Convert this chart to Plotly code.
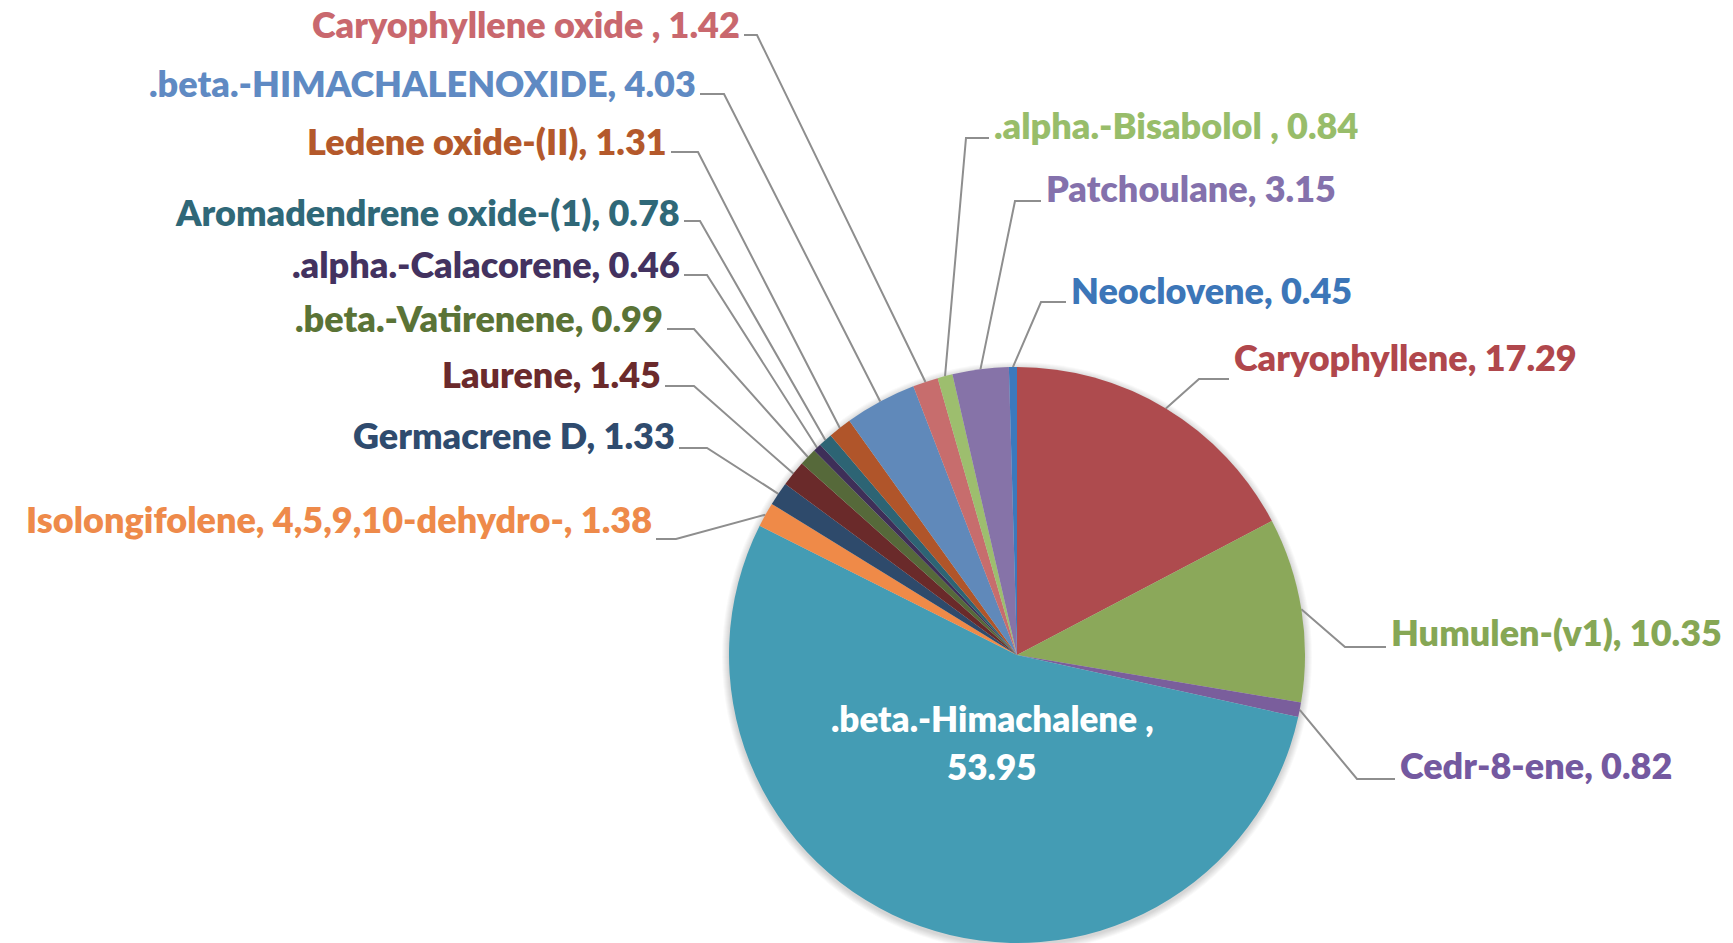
import math
import plotly.graph_objects as go

W, H = 1733, 943

# ---- data ----
compounds = [
    "Caryophyllene", "Humulen-(v1)", "Cedr-8-ene", ".beta.-Himachalene ",
    "Isolongifolene, 4,5,9,10-dehydro-", "Germacrene D", "Laurene",
    ".beta.-Vatirenene", ".alpha.-Calacorene", "Aromadendrene oxide-(1)",
    "Ledene oxide-(II)", ".beta.-HIMACHALENOXIDE", "Caryophyllene oxide ",
    ".alpha.-Bisabolol ", "Patchoulane", "Neoclovene",
]
values = [17.29, 10.35, 0.82, 53.95, 1.38, 1.33, 1.45, 0.99, 0.46, 0.78,
          1.31, 4.03, 1.42, 0.84, 3.15, 0.45]
value_labels = ["17.29", "10.35", "0.82", "53.95", "1.38", "1.33", "1.45", "0.99",
                "0.46", "0.78", "1.31", "4.03", "1.42", "0.84", "3.15", "0.45"]

slice_colors = ["#AE4B4E", "#8BA85A", "#7A5E9C", "#449CB4", "#EF8A48", "#2E4A6B",
                "#6A2A2A", "#56693A", "#3E2F58", "#2D6474", "#B0552A", "#6089BA",
                "#C76D6D", "#9DBE6E", "#8673A8", "#3B79BD"]
text_colors = ["#B0474C", "#86A755", "#7459A0", "#FFFFFF", "#EE8A4A", "#2F4B6E",
               "#6B2A2C", "#5A7336", "#433260", "#2F6878", "#B4592B", "#5F8AC3",
               "#C9686E", "#98BD6A", "#8471AC", "#3C76B8"]

# ---- layout (pixel positions of labels) ----
CX, CY, R = 1017, 655, 288
# side, text anchor x, text centre y, leader horizontal y, elbow x
label_pos = {
    "Caryophyllene": ("R", 1232, 357, 379, 1199),
    "Humulen-(v1)": ("R", 1389, 632, 647, 1345),
    "Cedr-8-ene": ("R", 1398, 765, 779, 1357),
    "Isolongifolene, 4,5,9,10-dehydro-": ("L", 654, 519, 539, 676),
    "Germacrene D": ("L", 677, 435, 448, 707),
    "Laurene": ("L", 663, 374, 386, 694),
    ".beta.-Vatirenene": ("L", 665, 318, 329, 694),
    ".alpha.-Calacorene": ("L", 682, 264, 275, 707),
    "Aromadendrene oxide-(1)": ("L", 682, 212, 221, 700),
    "Ledene oxide-(II)": ("L", 669, 141, 152, 698),
    ".beta.-HIMACHALENOXIDE": ("L", 698, 83, 94, 724),
    "Caryophyllene oxide ": ("L", 742, 24, 35, 757),
    ".alpha.-Bisabolol ": ("R", 992, 125, 138, 966),
    "Patchoulane": ("R", 1044, 188, 201, 1015),
    "Neoclovene": ("R", 1069, 290, 302, 1041),
}

fig = go.Figure()
fig.add_trace(go.Pie(
    labels=compounds, values=values, sort=False, direction="clockwise",
    rotation=0, textinfo="none", hoverinfo="label+value",
    marker=dict(colors=slice_colors, line=dict(width=0)),
    domain=dict(x=[(CX - R) / W, (CX + R) / W], y=[0, 2 * R / H]),
    showlegend=False,
))

total = sum(values)
lx, ly = [], []
annotations = []
font_family = "Lato"
fsize = 36
fweight = 800
cum = 0.0
for name, v, vl, tc in zip(compounds, values, value_labels, text_colors):
    mid = (cum + v / 2) / total * 2 * math.pi
    cum += v
    ex = CX + R * math.sin(mid)
    ey = CY - R * math.cos(mid)
    if name in label_pos:
        side, tx, ty, hy, elx = label_pos[name]
        if side == "L":
            lx += [ex, elx, tx + 2, None]
        else:
            lx += [ex, elx, tx - 3, None]
        ly += [ey, hy, hy, None]
        annotations.append(dict(
            x=tx, y=ty, xref="x", yref="y", text=f"{name}, {vl}",
            showarrow=False, xanchor="right" if side == "L" else "left",
            yanchor="middle",
            font=dict(family=font_family, size=fsize, color=tc, weight=fweight),
        ))
    else:
        annotations.append(dict(
            x=992, y=718, xref="x", yref="y", text=f"{name},",
            showarrow=False, xanchor="center", yanchor="middle",
            font=dict(family=font_family, size=fsize - 1, color=tc, weight=fweight),
        ))
        annotations.append(dict(
            x=992, y=766, xref="x", yref="y", text=vl,
            showarrow=False, xanchor="center", yanchor="middle",
            font=dict(family=font_family, size=fsize - 1, color=tc, weight=fweight),
        ))

fig.add_trace(go.Scatter(
    x=lx, y=ly, mode="lines", line=dict(color="#8E8E8E", width=2),
    hoverinfo="skip", showlegend=False,
))

# soft shadow around the pie
shapes = []
for k in range(1, 8):
    shapes.append(dict(
        type="circle", xref="x", yref="y", layer="below",
        x0=CX - R - k, x1=CX + R + k, y0=CY - R - k + 2, y1=CY + R + k + 2,
        fillcolor="rgba(0,0,0,0.022)", line=dict(width=0),
    ))

fig.update_layout(
    width=W, height=H,
    margin=dict(l=0, r=0, t=0, b=0),
    paper_bgcolor="white", plot_bgcolor="rgba(0,0,0,0)",
    xaxis=dict(range=[0, W], visible=False, fixedrange=True),
    yaxis=dict(range=[H, 0], visible=False, fixedrange=True),
    annotations=annotations,
    shapes=shapes,
)

fig.write_html(
    "out.html",
    config={"displayModeBar": False},
    post_script="document.body.style.margin='0';document.body.style.overflow='hidden';",
)
